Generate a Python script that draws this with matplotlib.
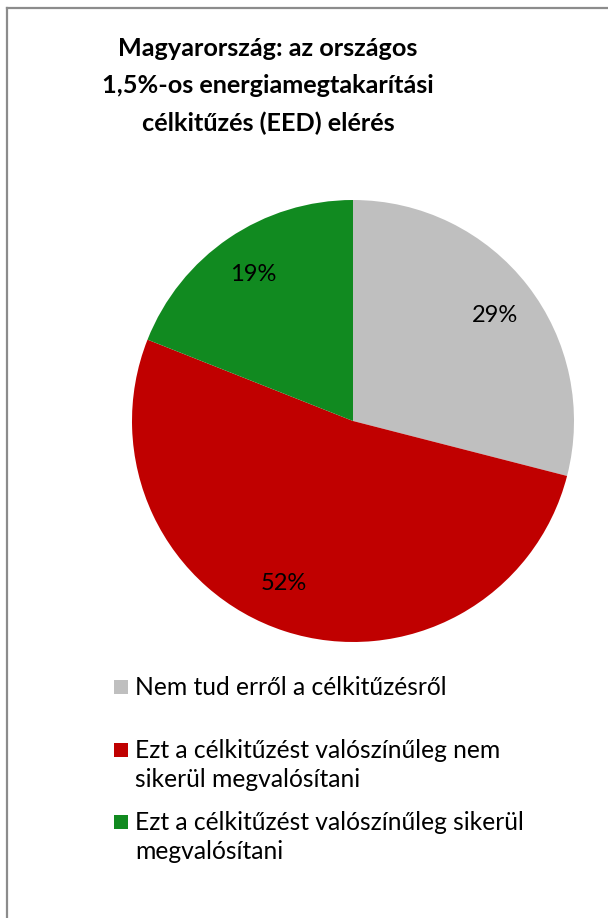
import matplotlib
matplotlib.use("Agg")
import numpy as np
import matplotlib.pyplot as plt
from matplotlib.lines import Line2D

categories = ["Nem tud erről a célkitűzésről",
              "Ezt a célkitűzést valószínűleg nem\nsikerül megvalósítani",
              "Ezt a célkitűzést valószínűleg sikerül\nmegvalósítani"]
values = [29, 52, 19]
colors = ["#bfbfbf", "#c00000", "#118a20"]
title = "Magyarország: az országos\n1,5%-os energiamegtakarítási\ncélkitűzés (EED) elérés"

plt.rcParams['font.family'] = ['Lato', 'DejaVu Sans']

W, H = 608, 918
fig = plt.figure(figsize=(W/100, H/100), dpi=100)

# frame lines (left and top)
fig.add_artist(Line2D([7/W, 7/W], [0, 1 - 8/H], color="#8c8c8c", lw=1.6, transform=fig.transFigure))
fig.add_artist(Line2D([7/W, 1], [1 - 8/H, 1 - 8/H], color="#8c8c8c", lw=1.6, transform=fig.transFigure))

fig.text(268/W, 1 - 86/H, title, ha="center", va="center", fontsize=18.2,
         fontweight="bold", linespacing=1.75)

cx, cy, r = 353, 421, 221
ax = fig.add_axes([(cx - r)/W, 1 - (cy + r)/H, 2*r/W, 2*r/H])
wedges, texts = ax.pie(values, colors=colors, startangle=90, counterclock=False,
                       labels=[f"{v}%" for v in values], labeldistance=0.8,
                       textprops=dict(fontsize=17, color="black"))
# slight best-fit style rotation of label angles (degrees)
label_shift = [-1, -5, 0]
for t, w, s in zip(texts, wedges, label_shift):
    t.set_ha("center")
    t.set_va("center")
    ang = np.deg2rad((w.theta1 + w.theta2) / 2 + s)
    t.set_position((0.8 * np.cos(ang), 0.8 * np.sin(ang)))
ax.set_aspect("equal")
ax.set_xlim(-1, 1)
ax.set_ylim(-1, 1)

# legend
ys = [687, 750, 822]
for cat, col, y in zip(categories, colors, ys):
    fig.patches.append(plt.Rectangle((114/W, 1 - (y + 7)/H), 14/W, 14/H,
                                     facecolor=col, transform=fig.transFigure))
    fig.text(135/W, 1 - (y - 11)/H, cat, ha="left", va="top", fontsize=17.7,
             linespacing=1.33)

fig.savefig("out.png", dpi=100)
